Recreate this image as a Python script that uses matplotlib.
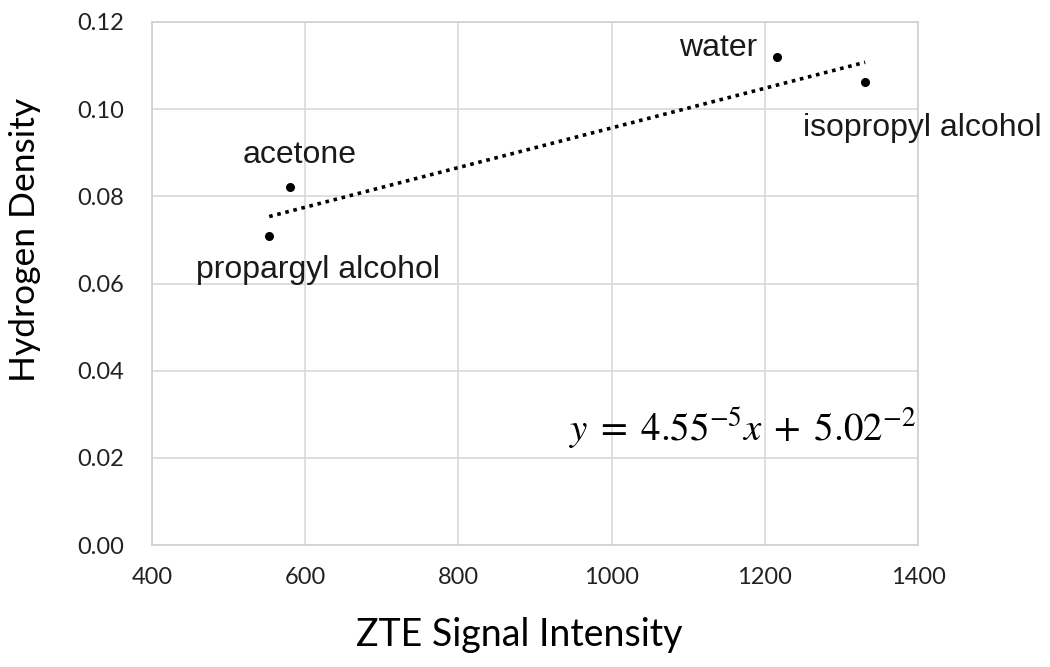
import numpy as np
from matplotlib import pyplot as plt

# values
names = ['propargyl alcohol', 'acetone', 'water', 'isopropyl alcohol']
signal = [553, 580, 1216, 1331]
density = [0.0708, 0.0821, 0.1119, 0.1062]
label_x = [617, 593, 1139, 1406]
label_y = [0.0631, 0.0894, 0.1140, 0.0956]
slope = 4.55e-5
intercept = 5.02e-2
xticks = [400, 600, 800, 1000, 1200, 1400]
yticks = [0.00, 0.02, 0.04, 0.06, 0.08, 0.10, 0.12]

plt.rcParams['mathtext.fontset'] = 'stix'

fig = plt.figure(figsize=(10.5, 6.67), dpi=100)
ax = fig.add_axes([152/1050, 1-545/667, 766/1050, 523/667])

ax.set_xlim(400, 1400)
ax.set_ylim(0, 0.12)
ax.set_xticks(xticks)
ax.set_yticks(yticks)
ax.set_xticklabels([str(t) for t in xticks], fontfamily='Lato', fontsize=17)
ax.set_yticklabels(['%.2f' % t for t in yticks], fontfamily='Lato', fontsize=17)
ax.tick_params(length=0, colors='#222222')
ax.tick_params(axis='x', pad=16)
ax.tick_params(axis='y', pad=20)
ax.grid(True, color='#d9d9d9', linewidth=1.2)
ax.set_axisbelow(True)
for s in ax.spines.values():
    s.set_color('#d0d0d0')
    s.set_linewidth(1.2)

# trendline over data range
xs = np.array([min(signal), max(signal)])
ax.plot(xs, slope*xs + intercept, color='black', linewidth=2.6,
        linestyle=(0, (1, 1.3)), dash_capstyle='butt')

ax.plot(signal, density, 'o', color='black', markersize=5.5)

for n, lx, ly in zip(names, label_x, label_y):
    ax.text(lx, ly, n, ha='center', va='center', fontfamily='Liberation Sans',
            fontsize=23, color='#1a1a1a', clip_on=False)

ax.text(1397, 0.0268, r'$y\;=\;4.55^{-5}x\;+\;5.02^{-2}$', ha='right', va='center',
        fontsize=28, color='black')

ax.set_xlabel('ZTE Signal Intensity', fontfamily='Lato', fontsize=27)
ax.set_ylabel('Hydrogen Density', fontfamily='Lato', fontsize=25.5)
ax.xaxis.set_label_coords(0.480, -0.138)
ax.yaxis.set_label_coords(-0.145, 0.583)

fig.savefig('out.png', dpi=100)
